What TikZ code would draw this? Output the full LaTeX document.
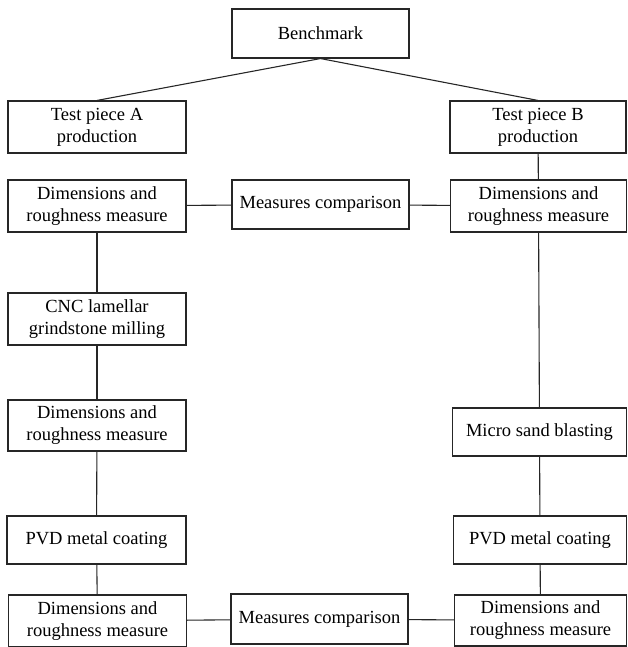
\documentclass[tikz,border=0pt]{standalone}
\usepackage{fontspec}
\setmainfont{Liberation Serif}
\usepackage{tikz}
\usetikzlibrary{positioning}

\begin{document}
\begin{tikzpicture}[
    x=1pt, y=-1pt,
    box/.style={rectangle, draw=black!85, line width=1.1pt, fill=white, minimum width=178pt, minimum height=52pt, align=center, inner sep=0pt, font=\fontsize{18.5}{22}\selectfont},
    onebox/.style={box, minimum height=49pt},
    link/.style={line width=1.1pt, draw=black!85}
]
\useasboundingbox (0,0) rectangle (627,647);

% Top: Benchmark
\node[onebox, minimum width=177pt] (bench) at (320.5,33.5) {Benchmark};

% Test pieces
\node[box] (testa) at (97,127) {Test piece A\\production};
\node[box, minimum width=176pt] (testb) at (538,127) {Test piece B\\production};

% First measures row
\node[box] (dima1) at (97,206) {Dimensions and\\roughness measure};
\node[onebox, minimum width=177pt] (cmp1) at (320.5,204.5) {Measures comparison};
\node[box, minimum width=176pt] (dimb1) at (538.5,206) {Dimensions and\\roughness measure};

% Left path: A
\node[box] (cnc) at (97,319) {CNC lamellar\\grindstone milling};
\node[box, minimum height=51pt] (dima2) at (97,425.5) {Dimensions and\\roughness measure};
\node[onebox, minimum height=48pt, minimum width=179pt] (pvda) at (96.5,540) {PVD metal coating};

% Right path: B
\node[onebox, minimum height=48pt, minimum width=174pt] (micro) at (539.5,432) {Micro sand blasting};
\node[onebox, minimum height=48pt, minimum width=173pt] (pvdb) at (540,540) {PVD metal coating};

% Last measures row
\node[box] (dima3) at (97.5,621) {Dimensions and\\roughness measure};
\node[onebox, minimum height=50pt, minimum width=177pt] (cmp2) at (319.5,619) {Measures comparison};
\node[box, minimum height=51pt, minimum width=172pt] (dimb3) at (540.5,620.5) {Dimensions and\\roughness measure};

% Connect
\draw[link] (bench.south) -- (testa.north);
\draw[link] (bench.south) -- (testb.north);
\draw[link] (testb) -- (dimb1);

\draw[link] (dima1) -- (cmp1);
\draw[link] (cmp1) -- (dimb1);

\draw[link] (dima1) -- (cnc);
\draw[link] (cnc) -- (dima2);
\draw[link] (dima2) -- (pvda);
\draw[link] (pvda) -- (dima3);

\draw[link] (dimb1) -- (micro);
\draw[link] (micro) -- (pvdb);
\draw[link] (pvdb) -- (dimb3);

\draw[link] (dima3) -- (cmp2);
\draw[link] (cmp2) -- (dimb3);

\end{tikzpicture}
\end{document}
